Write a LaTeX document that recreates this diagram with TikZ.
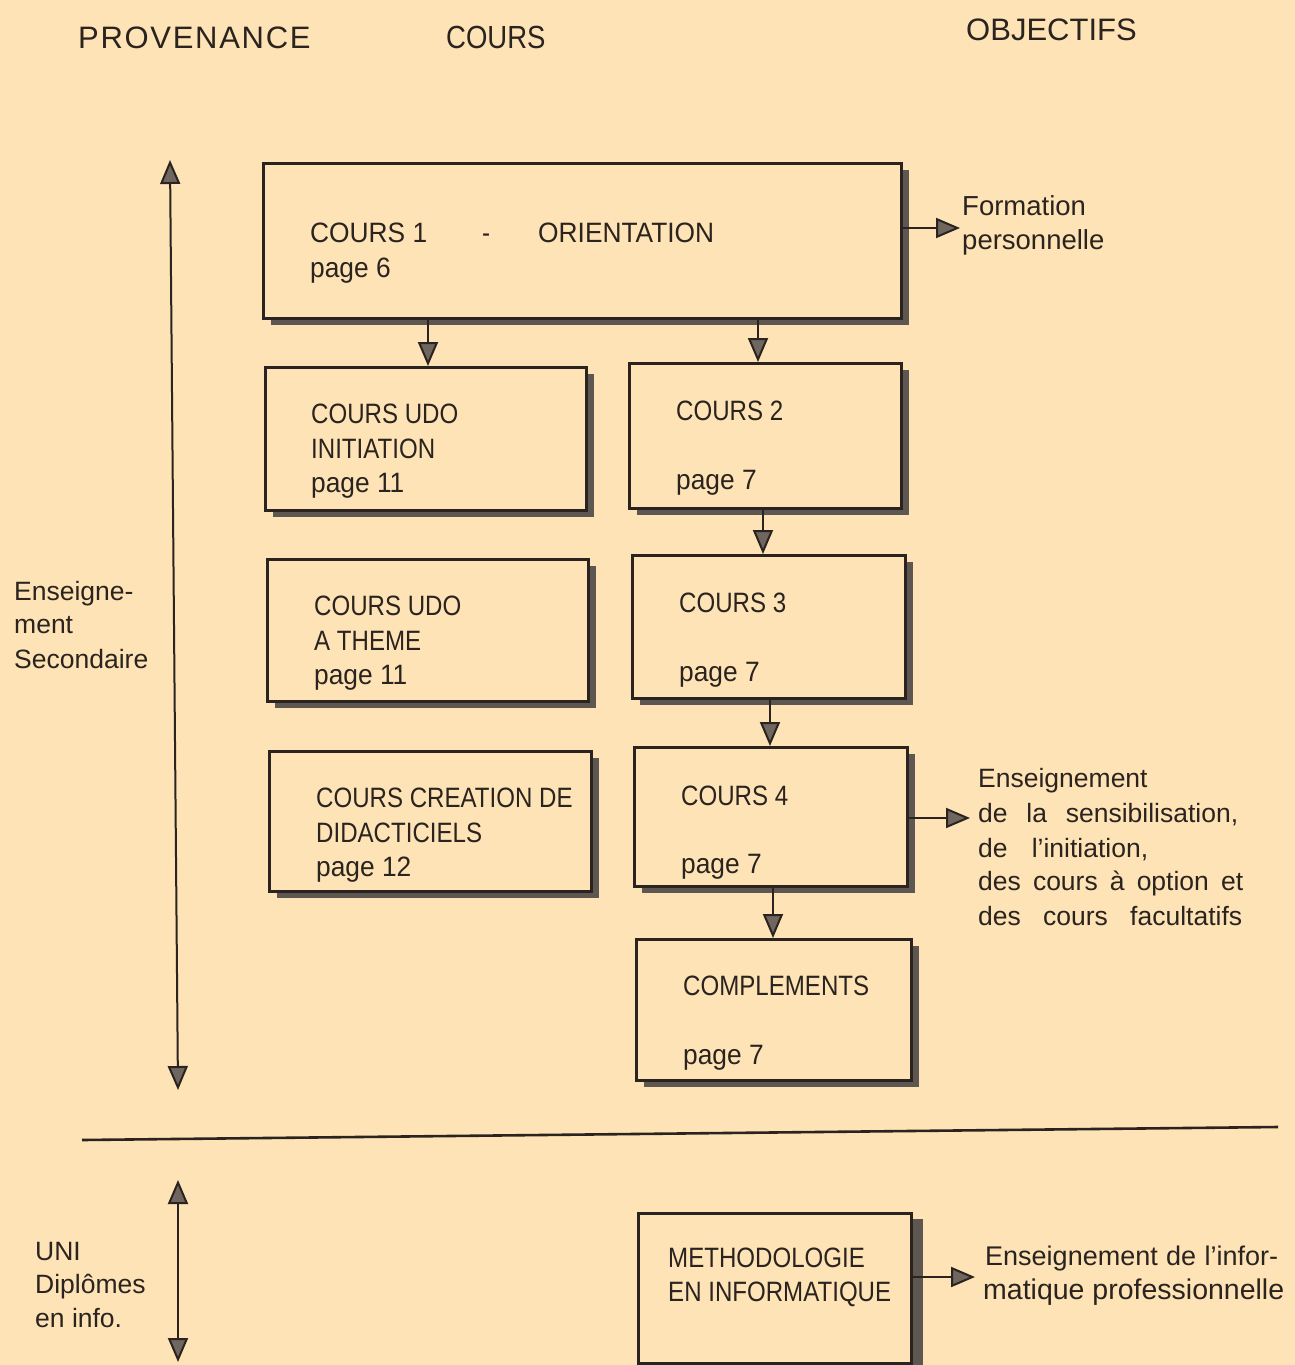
\documentclass[tikz,border=0pt]{standalone}
\usepackage{fontspec}
\setmainfont{Liberation Sans}
\newfontfamily\condf[FakeStretch=0.86]{Liberation Sans}
\newfontfamily\midf[FakeStretch=0.94]{Liberation Sans}
\newfontfamily\spacedf[LetterSpace=5.5]{Liberation Sans}
\usetikzlibrary{arrows.meta,shadows}
\definecolor{paper}{HTML}{FDE3B5}
\definecolor{ink}{HTML}{2A231F}
\definecolor{shade}{HTML}{5E5650}
\definecolor{headfill}{HTML}{6F665F}
\begin{document}
\begin{tikzpicture}[x=1pt,y=-1pt,
  box/.style={draw=ink,line width=2.6pt,fill=paper,anchor=north west,inner sep=0pt,
    drop shadow={shadow xshift=8pt,shadow yshift=-7pt,fill=shade,opacity=1}},
  lbl/.style={anchor=base west,inner sep=0pt,text=ink,font=\condf\fontsize{28}{34}\selectfont},
  pagel/.style={lbl,font=\midf\fontsize{28}{34}\selectfont},
  side/.style={anchor=base west,inner sep=0pt,text=ink,font=\fontsize{26.5}{34}\selectfont},
  hdr/.style={anchor=base west,inner sep=0pt,text=ink,font=\fontsize{31}{36}\selectfont},
  tip/.tip={Triangle[width=20pt,length=24pt,fill=headfill]},
  arr/.style={draw=ink,line width=2pt,-tip},
  darr/.style={draw=ink,line width=2pt,tip-tip}]
\fill[paper] (0,0) rectangle (1295,1365);
\useasboundingbox (0,0) rectangle (1295,1365);

% headers
\node[hdr,font=\spacedf\fontsize{31}{36}\selectfont] (hprov) at (78,48) {PROVENANCE};
\node[hdr,font=\condf\fontsize{32}{36}\selectfont] (hcours) at (446,48) {COURS};
\node[hdr] (hobj) at (966,40) {OBJECTIFS};

% boxes
\node[box,minimum width=638pt,minimum height=155pt] (c1) at (262,162) {};
\node[box,minimum width=321pt,minimum height=143pt] (udo1) at (264,366) {};
\node[box,minimum width=272pt,minimum height=145pt] (c2) at (628,362) {};
\node[box,minimum width=321pt,minimum height=142pt] (udo2) at (266,558) {};
\node[box,minimum width=273pt,minimum height=143pt] (c3) at (631,554) {};
\node[box,minimum width=322pt,minimum height=140pt] (cre) at (268,750) {};
\node[box,minimum width=273pt,minimum height=139pt] (c4) at (633,746) {};
\node[box,minimum width=275pt,minimum height=141pt] (comp) at (635,938) {};
\node[box,minimum width=273pt,minimum height=150pt,drop shadow={shadow xshift=12pt,shadow yshift=-6pt,fill=shade,opacity=1}] (meth) at (637,1212) {};

% box texts
\node[lbl,font=\midf\fontsize{28}{34}\selectfont] (t1a) at (310,242) {COURS 1};
\node[lbl] (t1b) at (482,242) {-};
\node[lbl,font=\midf\fontsize{28}{34}\selectfont] (t1c) at (538,242) {ORIENTATION};
\node[pagel] (t1d) at (310,277) {page 6};
\node[lbl] (u1a) at (311,423) {COURS UDO};
\node[lbl] (u1b) at (311,458) {INITIATION};
\node[pagel] (u1c) at (311,492) {page 11};
\node[lbl] (t2a) at (676,420) {COURS 2};
\node[pagel] (t2b) at (676,489) {page 7};
\node[lbl] (u2a) at (314,615) {COURS UDO};
\node[lbl] (u2b) at (314,650) {A THEME};
\node[pagel] (u2c) at (314,684) {page 11};
\node[lbl] (t3a) at (679,612) {COURS 3};
\node[pagel] (t3b) at (679,681) {page 7};
\node[lbl] (r1) at (316,807) {COURS CREATION DE};
\node[lbl] (r2) at (316,842) {DIDACTICIELS};
\node[pagel] (r3) at (316,876) {page 12};
\node[lbl] (t4a) at (681,805) {COURS 4};
\node[pagel] (t4b) at (681,873) {page 7};
\node[lbl] (t5a) at (683,995) {COMPLEMENTS};
\node[pagel] (t5b) at (683,1064) {page 7};
\node[lbl] (m1) at (668,1267) {METHODOLOGIE};
\node[lbl] (m2) at (668,1301) {EN INFORMATIQUE};

% side texts (objectives)
\node[side,font=\fontsize{27.5}{34}\selectfont] (fo1) at (962,215) {Formation};
\node[side,font=\fontsize{27.5}{34}\selectfont] (fo2) at (962,249) {personnelle};
\node[side] (e1) at (978,787) {\makebox[170pt][s]{Enseignement}};
\node[side] (e2) at (978,822) {\makebox[260pt][s]{de la sensibilisation,}};
\node[side] (e3) at (978,857) {\makebox[170pt][s]{de l'initiation,}};
\node[side] (e4) at (978,890) {\makebox[265pt][s]{des cours à option et}};
\node[side] (e5) at (978,925) {\makebox[264pt][s]{des cours facultatifs}};
\node[side,font=\fontsize{27}{34}\selectfont] (p1) at (985,1265) {\makebox[293pt][s]{Enseignement de l'infor-}};
\node[side,font=\fontsize{28.5}{34}\selectfont] (p2) at (983,1299) {matique professionnelle};

% provenance texts
\node[side] (s1) at (14,600) {Enseigne-};
\node[side] (s2) at (14,633) {ment};
\node[side] (s3) at (14,668) {Secondaire};
\node[side] (n1) at (35,1260) {UNI};
\node[side] (n2) at (35,1293) {Diplômes};
\node[side] (n3) at (35,1327) {en info.};

% connector coordinates
\coordinate (xa) at (428,0);
\coordinate (xb) at (758,0);
\coordinate (xc) at (763,0);
\coordinate (xd) at (770,0);
\coordinate (xe) at (773,0);
\coordinate (fo) at (960,228);
\coordinate (en) at (970,818);
\coordinate (pr) at (975,1277);
\coordinate (ls1) at (170,160);
\coordinate (ls2) at (178,1090);
\coordinate (lu1) at (178,1180);
\coordinate (lu2) at (178,1362);
\coordinate (hl1) at (82,1140);
\coordinate (hl2) at (1278,1127);

% connectors
\draw[arr] (c1.south -| xa) -- (udo1.north -| xa);
\draw[arr] (c1.south -| xb) -- (c2.north -| xb);
\draw[arr] (c2.south -| xc) -- (c3.north -| xc);
\draw[arr] (c3.south -| xd) -- (c4.north -| xd);
\draw[arr] (c4.south -| xe) -- (comp.north -| xe);
\draw[arr] (c1.east |- fo) -- (fo);
\draw[arr] (c4.east |- en) -- (en);
\draw[arr] (meth.east |- pr) -- (pr);
\draw[darr] (ls1) -- (ls2);
\draw[darr] (lu1) -- (lu2);
\draw[draw=ink,line width=2.6pt] (hl1) -- (hl2);
\end{tikzpicture}
\end{document}
